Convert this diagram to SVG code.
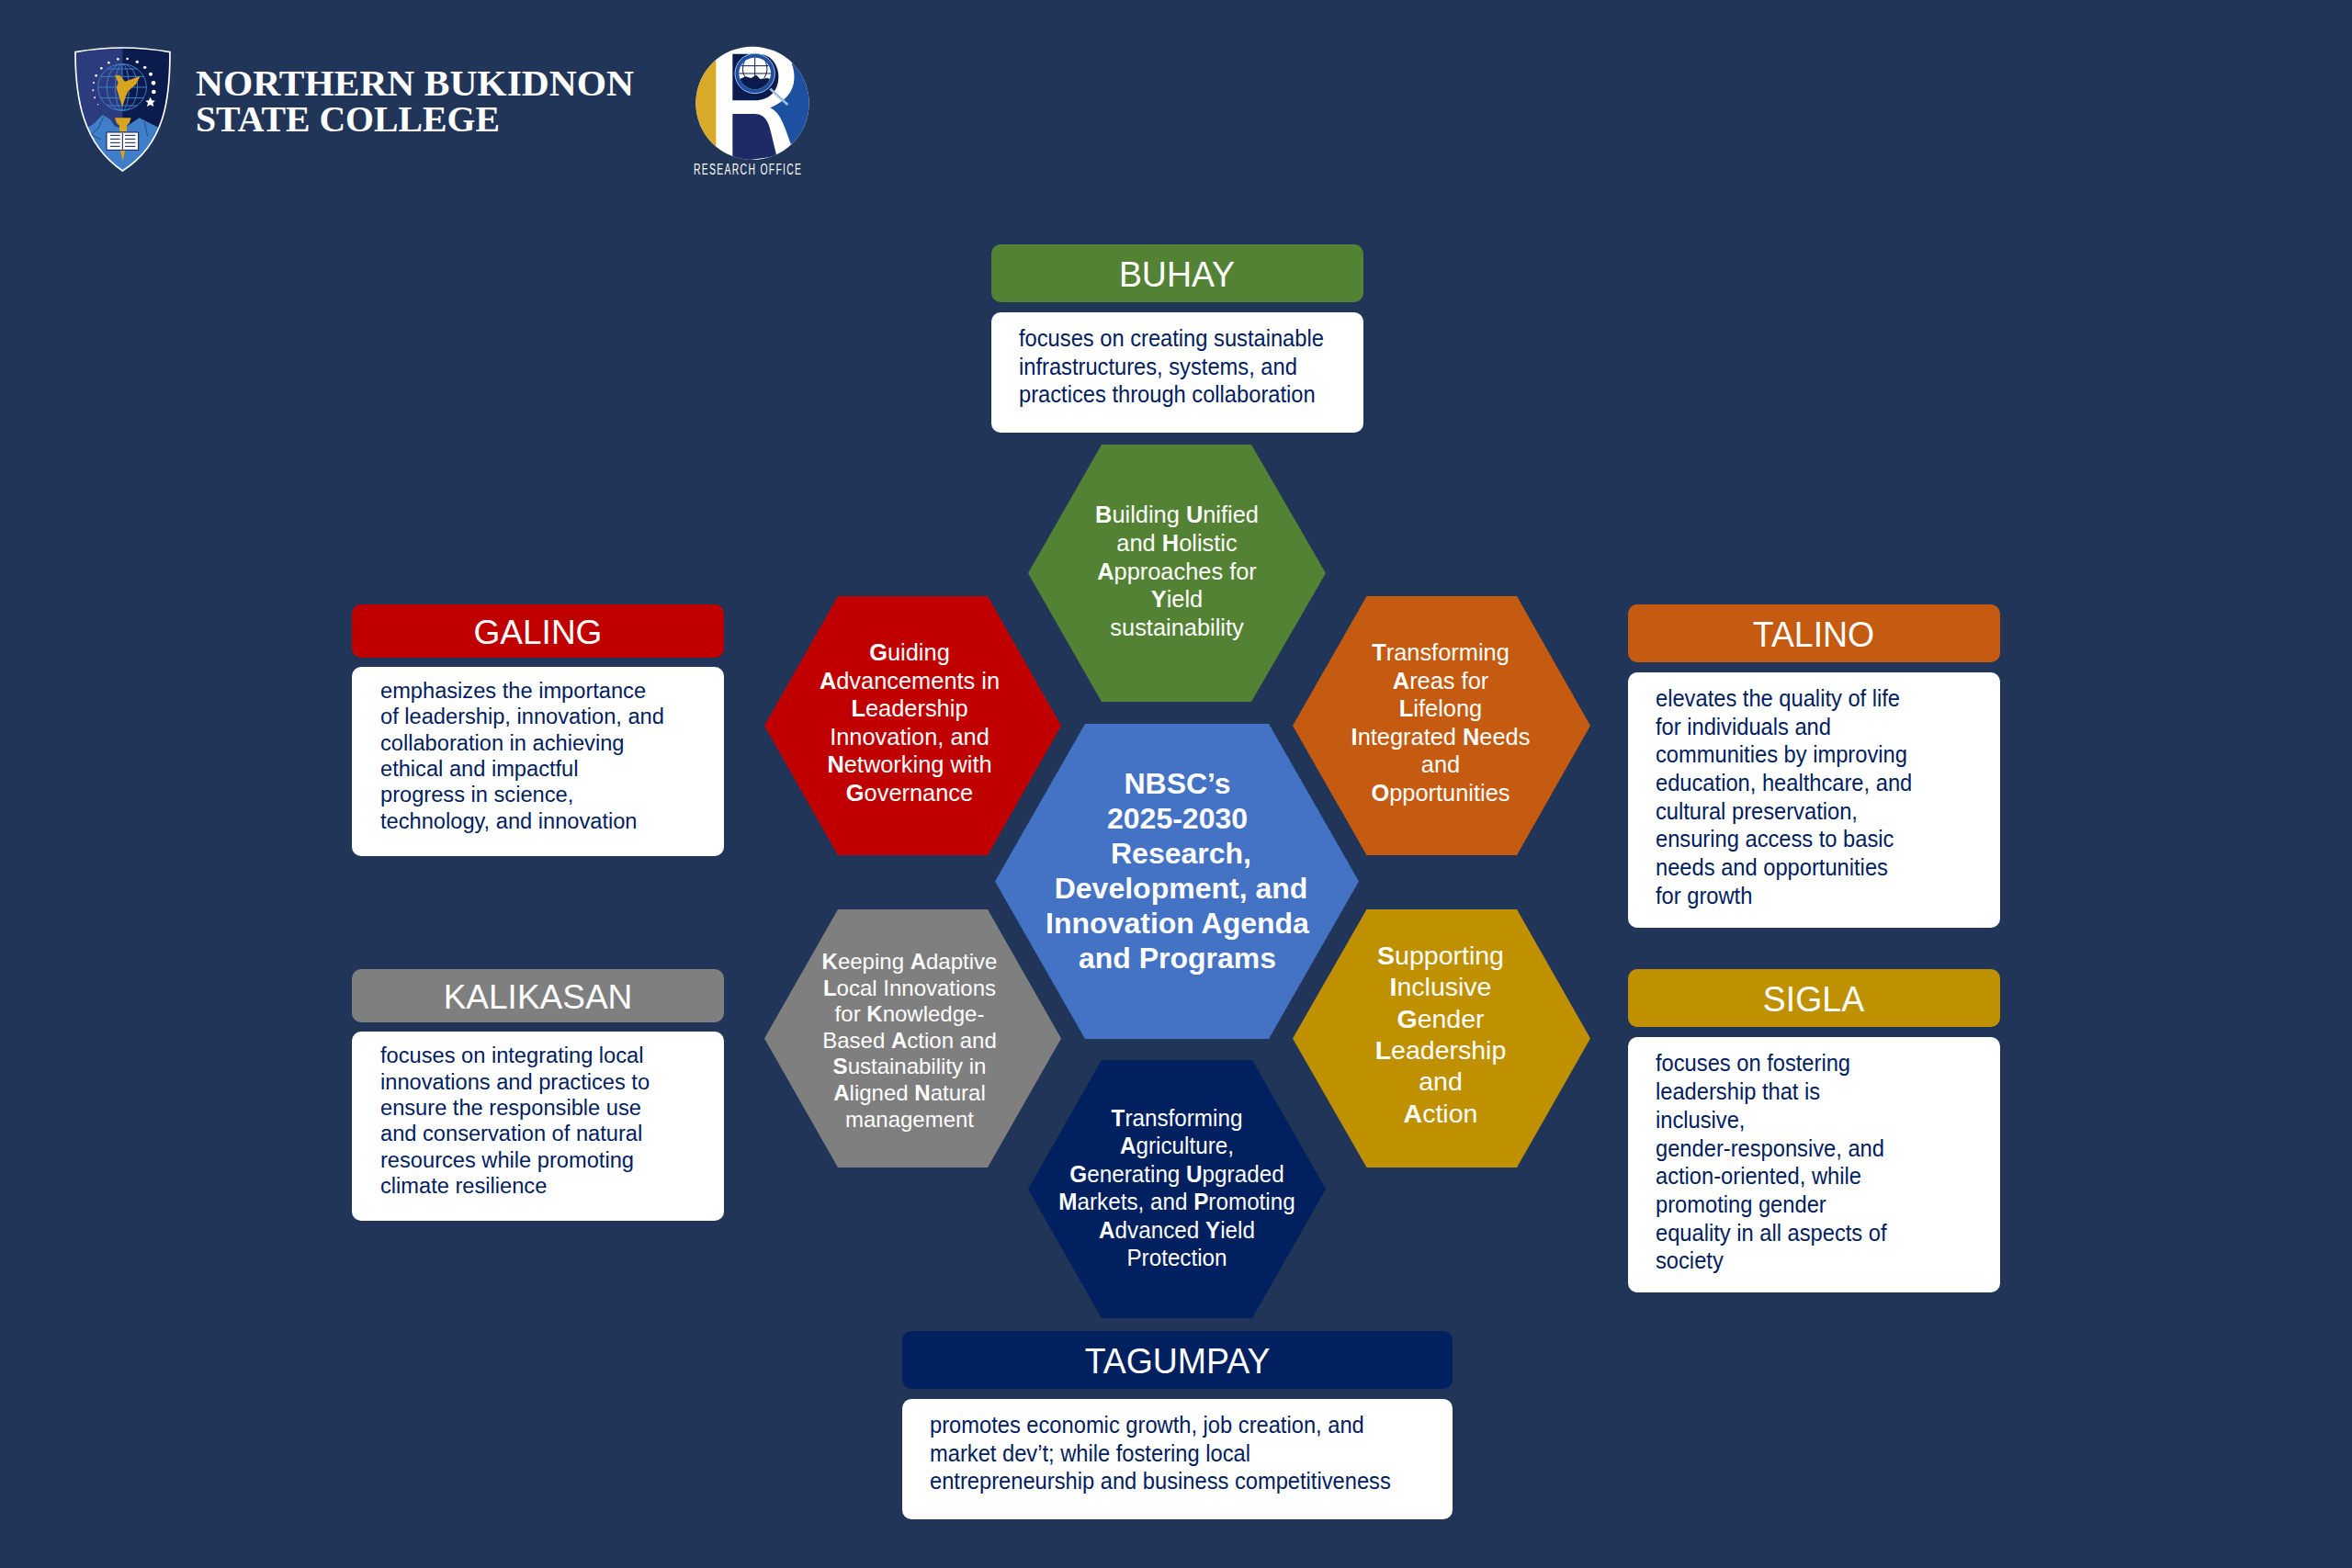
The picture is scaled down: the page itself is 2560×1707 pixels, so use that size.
<svg xmlns="http://www.w3.org/2000/svg" width="2560" height="1707" viewBox="0 0 2560 1707">
<style>
text{font-family:"Liberation Sans",Arial,sans-serif}
.hd{fill:#fff;font-size:39px;text-anchor:middle}
.hs{font-size:37px}
.bd{fill:#002060;font-size:25.6px}
.bs{font-size:23.65px}
.hx{fill:#fff;font-size:25.4px;text-anchor:middle}
.hxs{font-size:24px}
.hxl{font-size:28.5px}
.hxc{font-size:32px;font-weight:700}
.b{font-weight:700}
.card{fill:#fff}
.ttl{font-family:"Liberation Serif",serif;font-weight:700;font-size:41px;fill:#fff}
.green{fill:#548235}.red{fill:#c00000}.orange{fill:#c55a11}.gray{fill:#7f7f7f}.gold{fill:#bf9000}.navy{fill:#002060}.blue{fill:#4472c4}
</style>
<defs>
<clipPath id="shieldClip"><path d="M36 50Q190 22 345 50C345 200 330 350 190 438C60 350 36 200 36 50Z"/></clipPath>
<clipPath id="roundClip"><circle cx="237" cy="217" r="185"/></clipPath>
<clipPath id="globeClip"><circle cx="245" cy="120" r="52"/></clipPath>
</defs>
<rect width="2560" height="1707" fill="#213558"/>

<g id="logo-nbsc" transform="translate(70 40) scale(.33333)">
<path d="M36 50Q190 22 345 50C345 200 330 350 190 438C60 350 36 200 36 50Z" fill="#2c3a7e"/>
<g clip-path="url(#shieldClip)">
<rect x="190" y="20" width="160" height="420" fill="#0c1b4d"/>
<path d="M30 330L60 305 95 285 125 255 150 270 165 292 190 300 215 285 245 265 285 285 325 305 350 310V445H30Z" fill="#3f7fc9"/>
<path d="M75 330L110 300 128 262M262 280L272 325M88 320L120 335" stroke="#16305f" stroke-width="2" fill="none"/>
</g>
<path d="M36 50Q190 22 345 50C345 200 330 350 190 438C60 350 36 200 36 50Z" fill="none" stroke="#fff" stroke-width="5"/>
<g fill="none" stroke="#3f7fc9" stroke-width="3">
<ellipse cx="189" cy="165" rx="79" ry="76"/><ellipse cx="189" cy="165" rx="50" ry="76"/><ellipse cx="189" cy="165" rx="22" ry="76"/>
<path d="M189 89V241M110 165H268M119 130H259M119 200H259M140 105H238M140 225H238"/>
</g>
<path d="M165 125L182 127 198 146 222 138 248 128 234 155 208 178 200 197 190 228 180 200 170 165 176 150Z" fill="#d9a520"/>
<g fill="#fff"><circle cx="145" cy="85" r="4"/><circle cx="175" cy="73" r="4"/><circle cx="206" cy="72" r="4"/><circle cx="238" cy="82" r="5"/><circle cx="263" cy="100" r="5"/><circle cx="282" cy="122" r="6"/><circle cx="291" cy="151" r="7"/><circle cx="292" cy="180" r="7"/><path d="M281 197L286 208 297 209 289 216 292 228 281 222 270 228 273 216 265 209 276 208Z"/><circle cx="121" cy="103" r="4"/><circle cx="104" cy="127" r="4"/><circle cx="96" cy="150" r="3"/><circle cx="94" cy="175" r="3"/><circle cx="99" cy="199" r="3"/><circle cx="110" cy="221" r="2"/></g>
<path d="M165 265H218L212 282 204 290V310H180V290L171 282Z" fill="#d9a520"/>
<path d="M182 368H199L191 406Z" fill="#d9a520"/>
<path d="M138 312H242V370H138Z" fill="#fff" stroke="#0c1b4d" stroke-width="3"/>
<path d="M190 315V368M150 322H182M150 334H182M150 346H182M150 358H182M198 322H232M198 334H232M198 346H232M198 358H232" stroke="#0c1b4d" stroke-width="3" fill="none"/>
</g>

<g id="title">
<text class="ttl" x="213" y="104" textLength="477" lengthAdjust="spacingAndGlyphs">NORTHERN BUKIDNON</text>
<text class="ttl" x="213" y="143" textLength="331" lengthAdjust="spacingAndGlyphs">STATE COLLEGE</text>
</g>

<g id="logo-research" transform="translate(740 40) scale(.33333)">
<circle cx="237" cy="217" r="185" fill="#fff"/>
<g clip-path="url(#roundClip)">
<rect x="50" y="30" width="68" height="380" fill="#d9aa28"/>
<path d="M365 88C378 120 378 165 350 195 334 212 315 224 295 232 330 250 340 290 362 350L430 330V80Z" fill="#1e50a2"/>
<path d="M172 252H245C280 252 292 285 298 315L316 390 172 410Z" fill="#1d2a66"/>
<path d="M172 56H255C300 56 322 95 322 130 322 180 290 208 245 208H172Z" fill="#0c1b4d"/>
</g>
<circle cx="245" cy="120" r="65" fill="#1e50a2" stroke="#9fc0e6" stroke-width="3"/>
<circle cx="245" cy="120" r="52" fill="#fff"/>
<g clip-path="url(#globeClip)">
<path d="M190 140L215 130 232 135 250 125 262 138 285 135 300 140V180H190Z" fill="#0c1b4d"/>
<path d="M193 120H297M200 95H290M245 65V135M215 70Q195 110 215 135M275 70Q295 110 275 135" stroke="#0c1b4d" stroke-width="3" fill="none"/>
</g>
<path d="M295 170L352 222" stroke="#9fc0e6" stroke-width="8"/>
<text x="45" y="450" fill="#fff" font-size="48" letter-spacing="6" textLength="355" lengthAdjust="spacingAndGlyphs">RESEARCH OFFICE</text>
</g>

<g id="connectors"/>

<g id="hex-center">
<polygon class="blue" points="1083,959.5 1181,788 1381,788 1479,959.5 1381,1131 1181,1131"/>
<text class="hx hxc"><tspan x="1281.5" y="864">NBSC’s</tspan><tspan x="1281.5" y="902">2025-2030</tspan><tspan x="1285.5" y="940">Research,</tspan><tspan x="1285.5" y="978">Development, and</tspan><tspan x="1281.5" y="1016">Innovation Agenda</tspan><tspan x="1281.5" y="1054">and Programs</tspan></text>
</g>

<g id="node-buhay">
<polygon class="green" points="1119,624 1199,484 1362,484 1443,624 1362,764 1199,764"/>
<text class="hx"><tspan x="1281" y="569"><tspan class="b">B</tspan>uilding <tspan class="b">U</tspan>nified</tspan><tspan x="1281" y="600">and <tspan class="b">H</tspan>olistic</tspan><tspan x="1281" y="630.5"><tspan class="b">A</tspan>pproaches for</tspan><tspan x="1281" y="661"><tspan class="b">Y</tspan>ield</tspan><tspan x="1281" y="691.5">sustainability</tspan></text>
<rect class="green" x="1079" y="266" width="405" height="63" rx="10"/>
<text class="hd" transform="translate(1281 0) scale(.96 1)" x="0" y="312">BUHAY</text>
<rect class="card" x="1079" y="340" width="405" height="131" rx="10"/>
<text class="bd" transform="translate(1109 0) scale(.926 1)"><tspan x="0" y="377">focuses on creating sustainable</tspan><tspan x="0" y="408">infrastructures, systems, and</tspan><tspan x="0" y="438">practices through collaboration</tspan></text>
</g>

<g id="node-galing">
<polygon class="red" points="832,790 912,649 1075,649 1155,790 1075,931 912,931"/>
<text class="hx"><tspan x="990" y="719"><tspan class="b">G</tspan>uiding</tspan><tspan x="990" y="749.5"><tspan class="b">A</tspan>dvancements in</tspan><tspan x="990" y="780"><tspan class="b">L</tspan>eadership</tspan><tspan x="990" y="810.5">Innovation, and</tspan><tspan x="990" y="841"><tspan class="b">N</tspan>etworking with</tspan><tspan x="990" y="871.5"><tspan class="b">G</tspan>overnance</tspan></text>
<rect class="red" x="383" y="658" width="405" height="58" rx="10"/>
<text class="hd hs" x="585.5" y="701">GALING</text>
<rect class="card" x="383" y="726" width="405" height="206" rx="10"/>
<text class="bd bs"><tspan x="414" y="760">emphasizes the importance</tspan><tspan x="414" y="788.3">of leadership, innovation, and</tspan><tspan x="414" y="816.6">collaboration in achieving</tspan><tspan x="414" y="844.9">ethical and impactful</tspan><tspan x="414" y="873.2">progress in science,</tspan><tspan x="414" y="901.5">technology, and innovation</tspan></text>
</g>

<g id="node-talino">
<polygon class="orange" points="1407,790 1487.5,649 1651,649 1731,790 1651,931 1487.5,931"/>
<text class="hx"><tspan x="1568" y="719"><tspan class="b">T</tspan>ransforming</tspan><tspan x="1568" y="749.5"><tspan class="b">A</tspan>reas for</tspan><tspan x="1568" y="780"><tspan class="b">L</tspan>ifelong</tspan><tspan x="1568" y="810.5"><tspan class="b">I</tspan>ntegrated <tspan class="b">N</tspan>eeds</tspan><tspan x="1568" y="841">and</tspan><tspan x="1568" y="871.5"><tspan class="b">O</tspan>pportunities</tspan></text>
<rect class="orange" x="1772" y="658" width="405" height="63" rx="10"/>
<text class="hd" transform="translate(1974 0) scale(.96 1)" x="0" y="704">TALINO</text>
<rect class="card" x="1772" y="732" width="405" height="278" rx="10"/>
<text class="bd" transform="translate(1802 0) scale(.926 1)"><tspan x="0" y="769">elevates the quality of life</tspan><tspan x="0" y="799.7">for individuals and</tspan><tspan x="0" y="830.4">communities by improving</tspan><tspan x="0" y="861.1">education, healthcare, and</tspan><tspan x="0" y="891.8">cultural preservation,</tspan><tspan x="0" y="922.5">ensuring access to basic</tspan><tspan x="0" y="953.2">needs and opportunities</tspan><tspan x="0" y="983.9">for growth</tspan></text>
</g>

<g id="node-kalikasan">
<polygon class="gray" points="832,1130.5 912,990 1075,990 1155,1130.5 1075,1271 912,1271"/>
<text class="hx hxs"><tspan x="990" y="1055"><tspan class="b">K</tspan>eeping <tspan class="b">A</tspan>daptive</tspan><tspan x="990" y="1083.6"><tspan class="b">L</tspan>ocal Innovations</tspan><tspan x="990" y="1112.2">for <tspan class="b">K</tspan>nowledge-</tspan><tspan x="990" y="1140.8">Based <tspan class="b">A</tspan>ction and</tspan><tspan x="990" y="1169.4"><tspan class="b">S</tspan>ustainability in</tspan><tspan x="990" y="1198"><tspan class="b">A</tspan>ligned <tspan class="b">N</tspan>atural</tspan><tspan x="990" y="1226.6">management</tspan></text>
<rect class="gray" x="383" y="1055" width="405" height="58" rx="10"/>
<text class="hd hs" x="585.5" y="1098">KALIKASAN</text>
<rect class="card" x="383" y="1123" width="405" height="206" rx="10"/>
<text class="bd bs"><tspan x="414" y="1157.3">focuses on integrating local</tspan><tspan x="414" y="1185.6">innovations and practices to</tspan><tspan x="414" y="1213.9">ensure the responsible use</tspan><tspan x="414" y="1242.2">and conservation of natural</tspan><tspan x="414" y="1270.5">resources while promoting</tspan><tspan x="414" y="1298.8">climate resilience</tspan></text>
</g>

<g id="node-sigla">
<polygon class="gold" points="1407,1130.5 1487.5,990 1651,990 1731,1130.5 1651,1271 1487.5,1271"/>
<text class="hx hxl"><tspan x="1568" y="1050"><tspan class="b">S</tspan>upporting</tspan><tspan x="1568" y="1084.3"><tspan class="b">I</tspan>nclusive</tspan><tspan x="1568" y="1118.6"><tspan class="b">G</tspan>ender</tspan><tspan x="1568" y="1152.9"><tspan class="b">L</tspan>eadership</tspan><tspan x="1568" y="1187.2">and</tspan><tspan x="1568" y="1221.5"><tspan class="b">A</tspan>ction</tspan></text>
<rect class="gold" x="1772" y="1055" width="405" height="63" rx="10"/>
<text class="hd" transform="translate(1974 0) scale(.96 1)" x="0" y="1101.5">SIGLA</text>
<rect class="card" x="1772" y="1129" width="405" height="278" rx="10"/>
<text class="bd" transform="translate(1802 0) scale(.926 1)"><tspan x="0" y="1166.5">focuses on fostering</tspan><tspan x="0" y="1197.2">leadership that is</tspan><tspan x="0" y="1227.9">inclusive,</tspan><tspan x="0" y="1258.6">gender-responsive, and</tspan><tspan x="0" y="1289.3">action-oriented, while</tspan><tspan x="0" y="1320">promoting gender</tspan><tspan x="0" y="1350.7">equality in all aspects of</tspan><tspan x="0" y="1381.4">society</tspan></text>
</g>

<g id="node-tagumpay">
<polygon class="navy" points="1119,1294.5 1199,1154 1363,1154 1443,1294.5 1363,1435 1199,1435"/>
<text class="hx" transform="translate(1281 0) scale(.955 1)"><tspan x="0" y="1226"><tspan class="b">T</tspan>ransforming</tspan><tspan x="0" y="1256.5"><tspan class="b">A</tspan>griculture,</tspan><tspan x="0" y="1287"><tspan class="b">G</tspan>enerating <tspan class="b">U</tspan>pgraded</tspan><tspan x="0" y="1317.5"><tspan class="b">M</tspan>arkets, and <tspan class="b">P</tspan>romoting</tspan><tspan x="0" y="1348"><tspan class="b">A</tspan>dvanced <tspan class="b">Y</tspan>ield</tspan><tspan x="0" y="1378.5">Protection</tspan></text>
<rect class="navy" x="982" y="1449" width="599" height="63" rx="10"/>
<text class="hd" transform="translate(1281.5 0) scale(.96 1)" x="0" y="1495">TAGUMPAY</text>
<rect class="card" x="982" y="1523" width="599" height="131" rx="10"/>
<text class="bd" transform="translate(1012 0) scale(.926 1)"><tspan x="0" y="1560">promotes economic growth, job creation, and</tspan><tspan x="0" y="1590.7">market dev’t; while fostering local</tspan><tspan x="0" y="1621.4">entrepreneurship and business competitiveness</tspan></text>
</g>
</svg>
